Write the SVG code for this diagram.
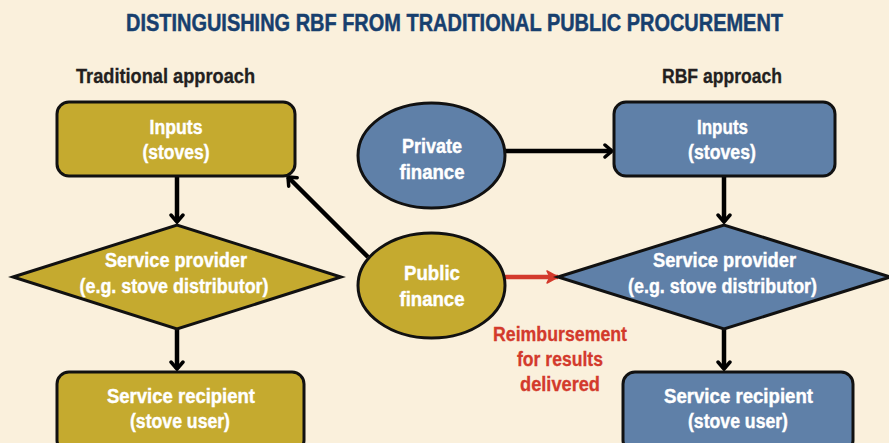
<svg xmlns="http://www.w3.org/2000/svg" width="889" height="443" viewBox="0 0 889 443">
  <style>
    .bg { fill: #faf0dc; }
    .gold { fill: #c5aa2f; stroke: #111; stroke-width: 3; }
    .blue { fill: #5f80a8; stroke: #111; stroke-width: 3; }
    .nt { font-family: "Liberation Sans", Arial, sans-serif; font-weight: bold; font-size: 20px; fill: #ffffff; stroke: #ffffff; stroke-width: 0.4; text-anchor: middle; }
    .title { font-family: "Liberation Sans", Arial, sans-serif; font-weight: bold; font-size: 20px; fill: #173f6e; stroke: #173f6e; stroke-width: 0.4; text-anchor: middle; }
    .head { font-family: "Liberation Sans", Arial, sans-serif; font-weight: bold; font-size: 20px; fill: #231f20; stroke: #231f20; stroke-width: 0.3; }
    .red { font-family: "Liberation Sans", Arial, sans-serif; font-weight: bold; font-size: 20px; fill: #d33a2c; stroke: #d33a2c; stroke-width: 0.3; text-anchor: middle; }
    .conn { stroke: #000; stroke-width: 4.5; fill: none; }
    .connr { stroke: #d33a2c; stroke-width: 4.5; fill: none; }
  </style>
  <defs>
    <marker id="ah" markerUnits="userSpaceOnUse" markerWidth="16" markerHeight="16" refX="11" refY="8" orient="auto">
      <path d="M4,2 L11,8 L4,14" fill="none" stroke="#000" stroke-width="3.5" stroke-linecap="round" stroke-linejoin="miter"/>
    </marker>
    <marker id="ahr" markerUnits="userSpaceOnUse" markerWidth="16" markerHeight="16" refX="13" refY="8" orient="auto">
      <path d="M2,2 L13,8 L2,14 L5,8 Z" fill="#d33a2c" stroke="#d33a2c" stroke-width="1.5" stroke-linejoin="round"/>
    </marker>
  </defs>
  <rect class="bg" x="0" y="0" width="889" height="443"/>

  <text class="title" transform="translate(454.5,31) scale(1,1.2)" x="0" y="0" textLength="657" lengthAdjust="spacingAndGlyphs">DISTINGUISHING RBF FROM TRADITIONAL PUBLIC PROCUREMENT</text>
  <text class="head" x="76" y="83" textLength="179" lengthAdjust="spacingAndGlyphs">Traditional approach</text>
  <text class="head" x="662" y="83" textLength="120" lengthAdjust="spacingAndGlyphs">RBF approach</text>

  <g id="connectors">
    <line class="conn" x1="177" y1="176" x2="177" y2="222" marker-end="url(#ah)"/>
    <line class="conn" x1="177" y1="329" x2="177" y2="369" marker-end="url(#ah)"/>
    <line class="conn" x1="368" y1="257" x2="288" y2="177" marker-end="url(#ah)"/>
    <line class="conn" x1="505" y1="151" x2="612" y2="151" marker-end="url(#ah)"/>
    <line class="conn" x1="724" y1="176" x2="724" y2="222" marker-end="url(#ah)"/>
    <line class="conn" x1="724" y1="329" x2="724" y2="369" marker-end="url(#ah)"/>
    <line class="connr" x1="505" y1="277" x2="558" y2="277" marker-end="url(#ahr)"/>
    <g id="reimbursement-label">
      <text class="red" x="560" y="341" textLength="134" lengthAdjust="spacingAndGlyphs">Reimbursement</text>
      <text class="red" x="560" y="366" textLength="86" lengthAdjust="spacingAndGlyphs">for results</text>
      <text class="red" x="560" y="391" textLength="80" lengthAdjust="spacingAndGlyphs">delivered</text>
    </g>
  </g>

  <g id="trad-inputs">
    <rect class="gold" x="57" y="102" width="238" height="74" rx="12"/>
    <text class="nt" x="176" y="134" textLength="53" lengthAdjust="spacingAndGlyphs">Inputs</text>
    <text class="nt" x="176" y="159" textLength="67" lengthAdjust="spacingAndGlyphs">(stoves)</text>
  </g>
  <g id="trad-provider">
    <polygon class="gold" points="13,277 177,225 341,277 177,329"/>
    <text class="nt" x="176" y="267" textLength="142" lengthAdjust="spacingAndGlyphs">Service provider</text>
    <text class="nt" x="174" y="293" textLength="189" lengthAdjust="spacingAndGlyphs">(e.g. stove distributor)</text>
  </g>
  <g id="trad-recipient">
    <rect class="gold" x="57" y="372" width="247" height="80" rx="12"/>
    <text class="nt" x="181" y="403" textLength="148" lengthAdjust="spacingAndGlyphs">Service recipient</text>
    <text class="nt" x="180" y="428" textLength="100" lengthAdjust="spacingAndGlyphs">(stove user)</text>
  </g>

  <g id="private-finance">
    <ellipse class="blue" cx="431.5" cy="155.5" rx="73.5" ry="52.5"/>
    <text class="nt" x="432" y="153" textLength="60" lengthAdjust="spacingAndGlyphs">Private</text>
    <text class="nt" x="432" y="179" textLength="65" lengthAdjust="spacingAndGlyphs">finance</text>
  </g>
  <g id="public-finance">
    <ellipse class="gold" cx="431.5" cy="285.5" rx="73.5" ry="52.5"/>
    <text class="nt" x="432" y="280" textLength="56" lengthAdjust="spacingAndGlyphs">Public</text>
    <text class="nt" x="432" y="306" textLength="65" lengthAdjust="spacingAndGlyphs">finance</text>
  </g>

  <g id="rbf-inputs">
    <rect class="blue" x="614" y="102" width="221" height="74" rx="12"/>
    <text class="nt" x="722.5" y="134" textLength="51" lengthAdjust="spacingAndGlyphs">Inputs</text>
    <text class="nt" x="722" y="159" textLength="68" lengthAdjust="spacingAndGlyphs">(stoves)</text>
  </g>
  <g id="rbf-provider">
    <polygon class="blue" points="558,277 724,225 890,277 724,329"/>
    <text class="nt" x="724.5" y="267" textLength="143" lengthAdjust="spacingAndGlyphs">Service provider</text>
    <text class="nt" x="722.5" y="293" textLength="189" lengthAdjust="spacingAndGlyphs">(e.g. stove distributor)</text>
  </g>
  <g id="rbf-recipient">
    <rect class="blue" x="623" y="372" width="230" height="80" rx="12"/>
    <text class="nt" x="738.5" y="403" textLength="149" lengthAdjust="spacingAndGlyphs">Service recipient</text>
    <text class="nt" x="738" y="428" textLength="100" lengthAdjust="spacingAndGlyphs">(stove user)</text>
  </g>
</svg>
